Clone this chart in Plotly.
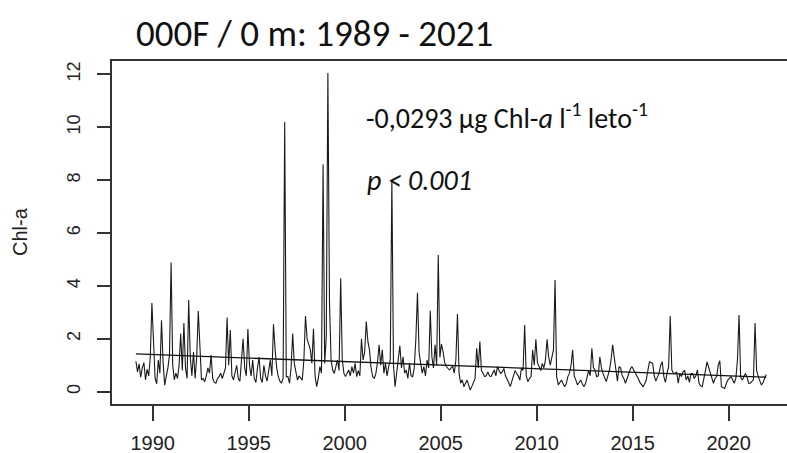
import plotly.graph_objects as go

# ---- data (monthly Chl-a, Feb 1989 .. Dec 2021) ----
first_year = 1989
first_month = 2
chl = [
    # 1989 (Feb-Dec)
    1.15, 0.75, 1.05, 0.55, 0.9, 1.1, 0.45, 0.85, 0.6, 1.3, 3.35,
    # 1990
    1.6, 0.5, 0.3, 1.2, 0.7, 2.7, 1.1, 0.25, 0.6, 0.9, 1.4, 4.88,
    # 1991
    1.0, 0.45, 0.7, 0.5, 1.0, 2.2, 0.8, 2.6, 0.9, 0.5, 3.47, 1.3,
    # 1992
    0.6, 1.5, 0.5, 1.3, 3.05, 1.77, 0.44, 0.5, 0.38, 0.6, 0.9, 0.7,
    # 1993
    1.39, 0.5, 0.35, 0.32, 0.5, 0.57, 0.7, 0.5, 0.69, 0.9, 2.8, 1.0,
    # 1994
    2.33, 0.6, 0.45, 0.7, 1.0, 0.5, 0.4, 1.2, 2.0, 0.9, 0.6, 2.37,
    # 1995
    1.0, 0.6, 1.2, 0.5, 0.35, 0.9, 1.3, 0.5, 0.35, 1.0, 0.6, 0.4,
    # 1996
    0.8, 1.2, 0.6, 2.55, 1.6, 0.9, 0.57, 0.4, 0.32, 0.5, 10.2, 0.57,
    # 1997
    0.57, 0.32, 0.9, 2.2, 1.07, 0.69, 0.44, 0.6, 0.5, 0.44, 1.2, 2.86,
    # 1998
    2.0, 1.8, 1.6, 1.07, 2.38, 0.6, 0.19, 0.5, 0.95, 0.7, 8.6, 1.07,
    # 1999
    2.1, 12.05, 3.4, 1.2, 0.82, 0.69, 0.9, 1.2, 0.8, 4.29, 1.2, 0.7,
    # 2000
    0.57, 0.7, 0.82, 0.6, 0.95, 0.7, 1.07, 0.57, 0.8, 0.6, 2.0, 1.2,
    # 2001
    1.5, 2.65, 1.9, 1.58, 0.9, 0.57, 0.5, 0.69, 1.1, 1.77, 1.0, 1.58,
    # 2002
    0.7, 1.07, 0.6, 0.95, 1.2, 8.0, 1.0, 0.19, 0.8, 1.2, 1.74, 0.9,
    # 2003
    1.32, 0.7, 0.82, 0.5, 1.07, 0.6, 0.57, 0.9, 2.0, 3.74, 1.5, 1.07,
    # 2004
    0.7, 0.95, 0.6, 1.2, 0.9, 3.06, 1.32, 0.9, 1.77, 1.0, 5.17, 1.3,
    # 2005
    1.8, 1.51, 1.1, 0.95, 0.9, 0.82, 0.9, 0.95, 0.7, 1.2, 2.94, 0.69,
    # 2006
    0.32, 0.45, 0.19, 0.3, 0.44, 0.25, 0.06, 0.2, 0.32, 0.5, 1.64, 0.9,
    # 2007
    1.9, 0.8, 0.69, 0.57, 0.6, 0.75, 0.6, 0.57, 0.7, 0.82, 0.6, 0.95,
    # 2008
    0.8, 0.69, 0.75, 0.88, 0.6, 0.5, 0.35, 0.19, 0.4, 0.57, 0.8, 0.69,
    # 2009
    0.6, 0.44, 0.9, 0.8, 2.52, 0.6, 0.38, 0.5, 0.57, 1.58, 1.0, 1.98,
    # 2010
    1.1, 0.95, 0.8, 1.07, 0.9, 1.2, 1.98, 1.32, 1.0, 1.3, 1.58, 4.22,
    # 2011
    0.57, 0.26, 0.35, 0.44, 0.3, 0.19, 0.3, 0.57, 0.7, 1.0, 1.58, 0.6,
    # 2012
    0.44, 0.26, 0.35, 0.44, 0.3, 0.19, 0.3, 0.57, 0.8, 0.6, 1.64, 0.9,
    # 2013
    0.82, 0.57, 0.6, 1.32, 0.9, 0.69, 0.5, 0.38, 0.6, 0.82, 1.2, 1.77,
    # 2014
    1.3, 0.82, 0.4, 0.95, 0.9, 0.6, 0.5, 0.32, 0.5, 0.69, 0.85, 0.95,
    # 2015
    0.85, 0.75, 0.6, 0.5, 0.35, 0.25, 0.19, 0.3, 0.44, 0.8, 1.13, 1.1,
    # 2016
    1.07, 0.6, 0.4, 0.55, 0.69, 1.0, 1.13, 0.57, 0.35, 0.7, 0.95, 2.86,
    # 2017
    0.82, 0.7, 0.69, 0.75, 0.32, 0.69, 0.57, 0.75, 0.8, 0.44, 0.6, 0.35,
    # 2018
    0.69, 0.69, 0.5, 0.6, 0.82, 0.32, 0.22, 0.19, 0.57, 0.8, 1.13, 0.9,
    # 2019
    0.69, 0.45, 0.32, 0.5, 0.57, 1.0, 1.17, 0.19, 0.15, 0.12, 0.3, 0.44,
    # 2020
    0.5, 0.57, 0.45, 0.32, 0.5, 1.2, 2.9, 0.55, 0.44, 0.6, 0.69, 0.55,
    # 2021
    0.32, 0.32, 0.4, 0.45, 2.6, 0.8, 0.57, 0.4, 0.25, 0.35, 0.5, 0.65,
]
trend_values = [1.43, 0.55]          # trend line at first / last sample
x_tick_vals = [1990, 1995, 2000, 2005, 2010, 2015, 2020]
x_tick_text = ["1990", "1995", "2000", "2005", "2010", "2015", "2020"]
y_tick_vals = [0, 2, 4, 6, 8, 10, 12]
y_tick_text = ["0", "2", "4", "6", "8", "10", "12"]
title_text = "000F / 0 m: 1989 - 2021"
slope_text = "-0,0293 µg Chl-<i>a</i> l<sup>-1</sup> leto<sup>-1</sup>"
p_text = "<i>p < 0.001</i>"
y_label = "Chl-a"

# decimal-year time axis (mid-month)
t = [first_year + (first_month - 1 + i + 0.5) / 12.0 for i in range(len(chl))]

fig = go.Figure()
fig.add_trace(go.Scatter(x=t, y=chl, mode="lines",
                         line=dict(color="#1a1a1a", width=1.1),
                         hoverinfo="skip", showlegend=False))
fig.add_trace(go.Scatter(x=[t[0], t[-1]], y=trend_values, mode="lines",
                         line=dict(color="#111111", width=1.3),
                         hoverinfo="skip", showlegend=False))

r_font = "Liberation Sans, Arial, sans-serif"
tick_font_x = dict(family=r_font, size=20, color="#222")
tick_font_y = dict(family=r_font, size=18, color="#222")
cal_font = "Carlito, Calibri, Lato, sans-serif"

fig.update_layout(
    width=787, height=453,
    margin=dict(l=112, r=0, t=61, b=49),
    paper_bgcolor="white", plot_bgcolor="white",
    title=dict(text=title_text, x=136 / 787, xanchor="left",
               y=1 - 33 / 453, yanchor="middle",
               font=dict(family=cal_font, size=37, color="#111")),
    xaxis=dict(range=[1987.88, 2023.04], tickvals=x_tick_vals, ticktext=x_tick_text,
               showgrid=False, zeroline=False, showline=True, mirror=True,
               linecolor="#333", linewidth=1.5, ticks="outside", ticklen=15,
               tickcolor="#333", tickwidth=1.5, tickfont=tick_font_x,
               ticklabelstandoff=5),
    yaxis=dict(range=[-0.465, 12.503], tickvals=y_tick_vals, ticktext=y_tick_text,
               showgrid=False, zeroline=False, showline=True, mirror=False,
               linecolor="#333", linewidth=1.5, ticks="outside", ticklen=13,
               tickcolor="#333", tickwidth=1.5, tickfont=tick_font_y,
               tickangle=-90, ticklabelstandoff=10),
    annotations=[
        dict(text=slope_text, xref="paper", yref="paper",
             x=(364 - 112) / 675, y=(404 - 117) / 343,
             xanchor="left", yanchor="middle", showarrow=False,
             font=dict(family=cal_font, size=28, color="#111")),
        dict(text=p_text, xref="paper", yref="paper",
             x=(365 - 112) / 675, y=(404 - 180) / 343,
             xanchor="left", yanchor="middle", showarrow=False,
             font=dict(family=cal_font, size=28, color="#111")),
        dict(text=y_label, xref="paper", yref="paper",
             x=(20 - 112) / 675, y=(404 - 232) / 343,
             xanchor="center", yanchor="middle", textangle=-90, showarrow=False,
             font=dict(family=r_font, size=20, color="#222")),
    ],
)

fig.write_html("out.html")
